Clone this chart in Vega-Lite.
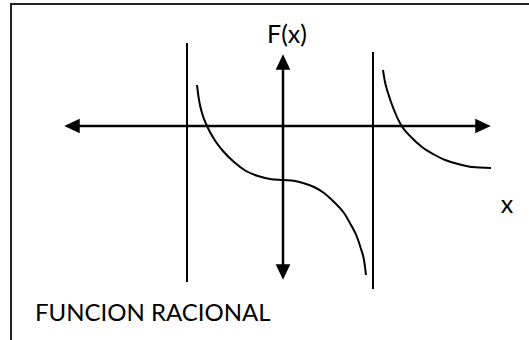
{
  "$schema": "https://vega.github.io/schema/vega-lite/v6.json",
  "width": 529,
  "height": 340,
  "autosize": "none",
  "padding": 0,
  "background": "white",
  "config": {"view": {"stroke": null}},
  "datasets": {
    "lines": [
      {"kind": "border", "seg": "b", "i": 0, "x": -5.44, "y": -4.3},
      {"kind": "border", "seg": "b", "i": 1, "x": -5.44, "y": 2.44},
      {"kind": "border", "seg": "b", "i": 2, "x": 4.94, "y": 2.44},
      {"kind": "axis", "seg": "h", "i": 0, "x": -4.22, "y": 0},
      {"kind": "axis", "seg": "h", "i": 1, "x": 4.0, "y": 0},
      {"kind": "axis", "seg": "v", "i": 0, "x": 0, "y": 1.28},
      {"kind": "axis", "seg": "v", "i": 1, "x": 0, "y": -2.92},
      {"kind": "asym", "seg": "a1", "i": 0, "x": -1.92, "y": 1.66},
      {"kind": "asym", "seg": "a1", "i": 1, "x": -1.92, "y": -3.12},
      {"kind": "asym", "seg": "a2", "i": 0, "x": 1.8, "y": 1.48},
      {"kind": "asym", "seg": "a2", "i": 1, "x": 1.8, "y": -3.26}
    ],
    "curves": [
      {"seg": "c1", "i": 0, "x": -1.72, "y": 0.82},
      {"seg": "c1", "i": 1, "x": -1.68, "y": 0.52},
      {"seg": "c1", "i": 2, "x": -1.62, "y": 0.26},
      {"seg": "c1", "i": 3, "x": -1.52, "y": 0.0},
      {"seg": "c1", "i": 4, "x": -1.38, "y": -0.26},
      {"seg": "c1", "i": 5, "x": -1.2, "y": -0.5},
      {"seg": "c1", "i": 6, "x": -0.98, "y": -0.72},
      {"seg": "c1", "i": 7, "x": -0.74, "y": -0.9},
      {"seg": "c1", "i": 8, "x": -0.5, "y": -1.0},
      {"seg": "c1", "i": 9, "x": -0.26, "y": -1.06},
      {"seg": "c1", "i": 10, "x": 0.0, "y": -1.08},
      {"seg": "c1", "i": 11, "x": 0.24, "y": -1.1},
      {"seg": "c1", "i": 12, "x": 0.4, "y": -1.14},
      {"seg": "c1", "i": 13, "x": 0.62, "y": -1.22},
      {"seg": "c1", "i": 14, "x": 0.82, "y": -1.34},
      {"seg": "c1", "i": 15, "x": 1.02, "y": -1.52},
      {"seg": "c1", "i": 16, "x": 1.22, "y": -1.74},
      {"seg": "c1", "i": 17, "x": 1.36, "y": -1.98},
      {"seg": "c1", "i": 18, "x": 1.48, "y": -2.22},
      {"seg": "c1", "i": 19, "x": 1.56, "y": -2.46},
      {"seg": "c1", "i": 20, "x": 1.62, "y": -2.68},
      {"seg": "c1", "i": 21, "x": 1.66, "y": -2.98},
      {"seg": "c2", "i": 0, "x": 2.0, "y": 1.12},
      {"seg": "c2", "i": 1, "x": 2.04, "y": 0.88},
      {"seg": "c2", "i": 2, "x": 2.1, "y": 0.66},
      {"seg": "c2", "i": 3, "x": 2.22, "y": 0.32},
      {"seg": "c2", "i": 4, "x": 2.36, "y": 0.02},
      {"seg": "c2", "i": 5, "x": 2.56, "y": -0.22},
      {"seg": "c2", "i": 6, "x": 2.78, "y": -0.42},
      {"seg": "c2", "i": 7, "x": 3.0, "y": -0.56},
      {"seg": "c2", "i": 8, "x": 3.24, "y": -0.68},
      {"seg": "c2", "i": 9, "x": 3.5, "y": -0.76},
      {"seg": "c2", "i": 10, "x": 3.78, "y": -0.82},
      {"seg": "c2", "i": 11, "x": 4.16, "y": -0.84}
    ],
    "arrows": [
      {"dir": "left", "x": -4.22, "y": 0},
      {"dir": "right", "x": 4.0, "y": 0},
      {"dir": "up", "x": 0, "y": 1.28},
      {"dir": "down", "x": 0, "y": -2.92}
    ],
    "labels": [
      {"text": "F(x)", "x": 0.08, "y": 1.66, "anchor": "center"},
      {"text": "x", "x": 4.48, "y": -1.74, "anchor": "center"},
      {"text": "FUNCION RACIONAL", "x": -4.96, "y": -3.9, "anchor": "left"}
    ]
  },
  "encoding": {
    "x": {"field": "x", "type": "quantitative", "axis": null, "scale": {"domain": [-5.66, 4.92], "nice": false, "zero": false}},
    "y": {"field": "y", "type": "quantitative", "axis": null, "scale": {"domain": [-4.28, 2.52], "nice": false, "zero": false}}
  },
  "layer": [
    {
      "data": {"name": "lines"},
      "transform": [{"filter": "datum.kind == 'border'"}],
      "mark": {"type": "line", "color": "#222222", "strokeWidth": 2, "clip": false},
      "encoding": {"detail": {"field": "seg"}, "order": {"field": "i", "type": "quantitative"}}
    },
    {
      "data": {"name": "lines"},
      "transform": [{"filter": "datum.kind == 'axis'"}],
      "mark": {"type": "line", "color": "black", "strokeWidth": 2.5},
      "encoding": {"detail": {"field": "seg"}, "order": {"field": "i", "type": "quantitative"}}
    },
    {
      "data": {"name": "lines"},
      "transform": [{"filter": "datum.kind == 'asym'"}],
      "mark": {"type": "line", "color": "black", "strokeWidth": 2},
      "encoding": {"detail": {"field": "seg"}, "order": {"field": "i", "type": "quantitative"}}
    },
    {
      "data": {"name": "curves"},
      "mark": {"type": "line", "color": "black", "strokeWidth": 2, "interpolate": "monotone"},
      "encoding": {"detail": {"field": "seg"}, "order": {"field": "i", "type": "quantitative"}}
    },
    {
      "data": {"name": "arrows"},
      "mark": {"type": "point", "filled": true, "color": "black", "opacity": 1, "size": 240, "strokeWidth": 0},
      "encoding": {
        "shape": {
          "field": "dir", "type": "nominal", "legend": null,
          "scale": {
            "domain": ["left", "right", "up", "down"],
            "range": ["M-1,0L1,-0.95L1,0.95Z", "M1,0L-1,-0.95L-1,0.95Z", "M0,-1L-0.95,1L0.95,1Z", "M0,1L-0.95,-1L0.95,-1Z"]
          }
        }
      }
    },
    {
      "data": {"name": "labels"},
      "transform": [{"filter": "datum.anchor == 'center'"}],
      "mark": {"type": "text", "font": "Lato", "fontSize": 25, "color": "black", "align": "center", "baseline": "alphabetic"},
      "encoding": {"text": {"field": "text"}}
    },
    {
      "data": {"name": "labels"},
      "transform": [{"filter": "datum.anchor == 'left'"}],
      "mark": {"type": "text", "font": "Lato", "fontSize": 24, "color": "black", "align": "left", "baseline": "alphabetic"},
      "encoding": {"text": {"field": "text"}}
    }
  ]
}
